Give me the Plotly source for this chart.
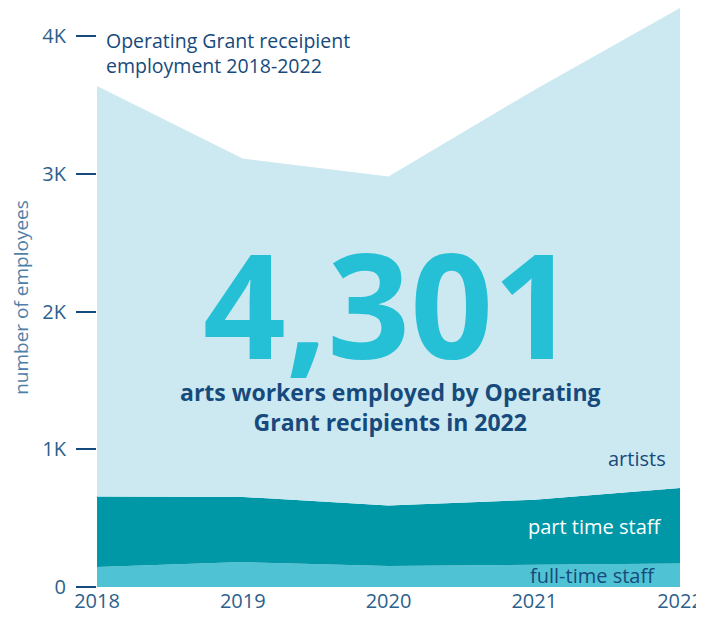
import plotly.graph_objects as go

years = [2018, 2019, 2020, 2021, 2022]
full_time = [145, 181, 152, 162, 170]
part_time = [513, 473, 440, 472, 548]
artists = [2980, 2457, 2388, 2975, 3486]

NAVY = "#174a7c"
TICK = "#2d5f8c"
FONT = "Open Sans"

# screen positions of the plot area (page adds an 8px body offset)
OFF = 8
FW, FH = 704 - OFF, 625 - 2 * OFF
L, R, T, B = 97, 680, 8, 587
W, H = R - L, B - T


def px(x):
    return (x - L) / W


def py(y):
    return 1 - (y - T) / H


fig = go.Figure()
fig.add_trace(go.Scatter(x=years, y=full_time, stackgroup="s", mode="none",
                         fillcolor="#4fc3d4", name="full-time staff"))
fig.add_trace(go.Scatter(x=years, y=part_time, stackgroup="s", mode="none",
                         fillcolor="#0097a7", name="part time staff"))
fig.add_trace(go.Scatter(x=years, y=artists, stackgroup="s", mode="none",
                         fillcolor="#cce9f1", name="artists"))

fig.update_layout(
    width=FW, height=FH,
    margin=dict(l=L - OFF, r=FW - (R - OFF), t=T - OFF, b=FH - (B - OFF)),
    paper_bgcolor="white", plot_bgcolor="white",
    showlegend=False,
    font=dict(family=FONT, color=TICK),
    xaxis=dict(range=[2018, 2022], tickvals=years, ticktext=[str(y) for y in years],
               showgrid=False, zeroline=False, showline=False, ticks="",
               automargin=False,
               tickfont=dict(size=20, color=TICK)),
    yaxis=dict(range=[0, 4204], tickvals=[0, 1000, 2000, 3000, 4000],
               ticktext=["0", "1K", "2K", "3K", "4K"],
               showgrid=False, zeroline=False, showline=False,
               automargin=False,
               ticks="outside", ticklen=20, tickwidth=1.5, tickcolor=NAVY,
               ticklabelstandoff=6,
               tickfont=dict(size=20, color=TICK),
               title=dict(text="number of employees", standoff=11,
                          font=dict(size=19, color="#4f80a8"))),
)

fig.add_annotation(xref="x domain", yref="y domain", x=px(104), y=py(25),
                   text="Operating Grant receipient<br>employment 2018-2022",
                   showarrow=False, align="left", xanchor="left", yanchor="top",
                   font=dict(size=19.5, color=NAVY, family=FONT))

fig.add_annotation(xref="x domain", yref="y domain", x=px(389), y=py(302),
                   text="<b>4,301</b>", showarrow=False,
                   xanchor="center", yanchor="middle",
                   font=dict(size=145, color="#25c0d6", family=FONT))
fig.add_annotation(xref="x domain", yref="y domain", x=px(390), y=py(407),
                   text="<b>arts workers employed by Operating<br>Grant recipients in 2022</b>",
                   showarrow=False, align="center", xanchor="center", yanchor="middle",
                   font=dict(size=23, color=NAVY, family=FONT))

labels = [("artists", 668, 458, NAVY), ("part time staff", 664, 526, "white"),
          ("full-time staff", 657, 575, NAVY)]
for t, xr, yc, c in labels:
    fig.add_annotation(xref="x domain", yref="y domain", x=px(xr), y=py(yc),
                       text=t, showarrow=False, xanchor="right", yanchor="middle",
                       font=dict(size=20, color=c, family=FONT))

fig.write_html("out.html")
